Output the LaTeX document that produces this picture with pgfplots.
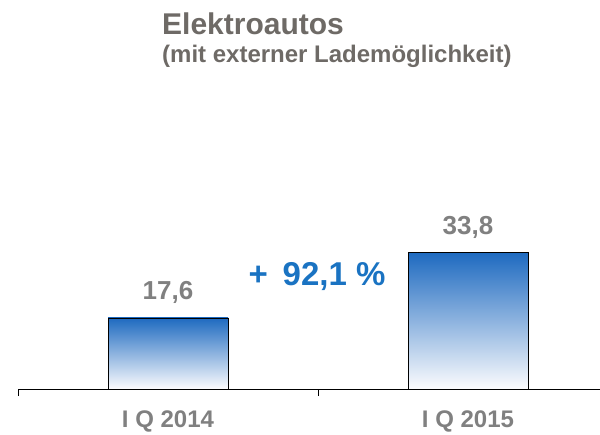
\documentclass[border=0pt]{standalone}
\usepackage{pgfplots}
\pgfplotsset{compat=1.18}
\usepackage{fontspec}
\setmainfont{Liberation Sans}
\definecolor{titlegray}{RGB}{110,106,102}
\definecolor{valgray}{RGB}{128,128,128}
\definecolor{pctblue}{RGB}{26,115,194}
\definecolor{bartop}{RGB}{30,106,192}
\definecolor{barmid}{RGB}{176,190,226}
\definecolor{barbot}{RGB}{252,252,254}
\pgfplotsset{mybar/.style={ybar, bar width=120pt, bar shift=0pt, draw=black, line width=0.6pt,
    top color=bartop, middle color=barmid, bottom color=barbot,
    nodes near coords={\pgfmathprintnumber[use comma,fixed,fixed zerofill,precision=1,assume math mode=true]{\pgfplotspointmeta}},
    every node near coord/.append style={font=\fontsize{26}{26}\selectfont\bfseries, text=valgray, anchor=base, yshift=18pt, inner sep=0pt}}}
\begin{document}
\begin{tikzpicture}
\path[use as bounding box] (0,0) rectangle (600pt,434pt);
\begin{axis}[
  at={(18pt,45pt)}, anchor=south west,
  scale only axis, width=582pt, height=344pt,
  xmin=-0.5, xmax=1.44, ymin=0, ymax=85.1,
  axis x line=bottom, axis y line=none,
  x axis line style={-, line width=0.8pt, black},
  xtick={0,1},
  xticklabels={I Q 2014, I Q 2015},
  xtick style={draw=none},
  major tick length=7pt,
  xtick align=outside,
  xticklabel style={font=\fontsize{24}{24}\selectfont\bfseries, text=valgray, anchor=base, yshift=-31pt, inner sep=0pt},
  extra x ticks={-0.5,0.5},
  extra x tick labels={},
  extra x tick style={xtick style={draw=black, line width=0.6pt}},
  clip=false,
]
\addplot[mybar] coordinates {(0,17.6)};
\addplot[mybar] coordinates {(1,33.8)};
\end{axis}
\node[anchor=base west, inner sep=0pt, font=\fontsize{30}{30}\selectfont\bfseries, text=titlegray] at (162pt,399pt) {Elektroautos};
\node[anchor=base west, inner sep=0pt, font=\fontsize{24}{24}\selectfont\bfseries, text=titlegray] at (162pt,371pt) {(mit externer Lademöglichkeit)};
\node[anchor=base, inner sep=0pt, font=\fontsize{33}{33}\selectfont\bfseries, text=pctblue] at (317pt,148pt) {+\hspace{0.45em}92,1 \%};
\end{tikzpicture}
\end{document}
